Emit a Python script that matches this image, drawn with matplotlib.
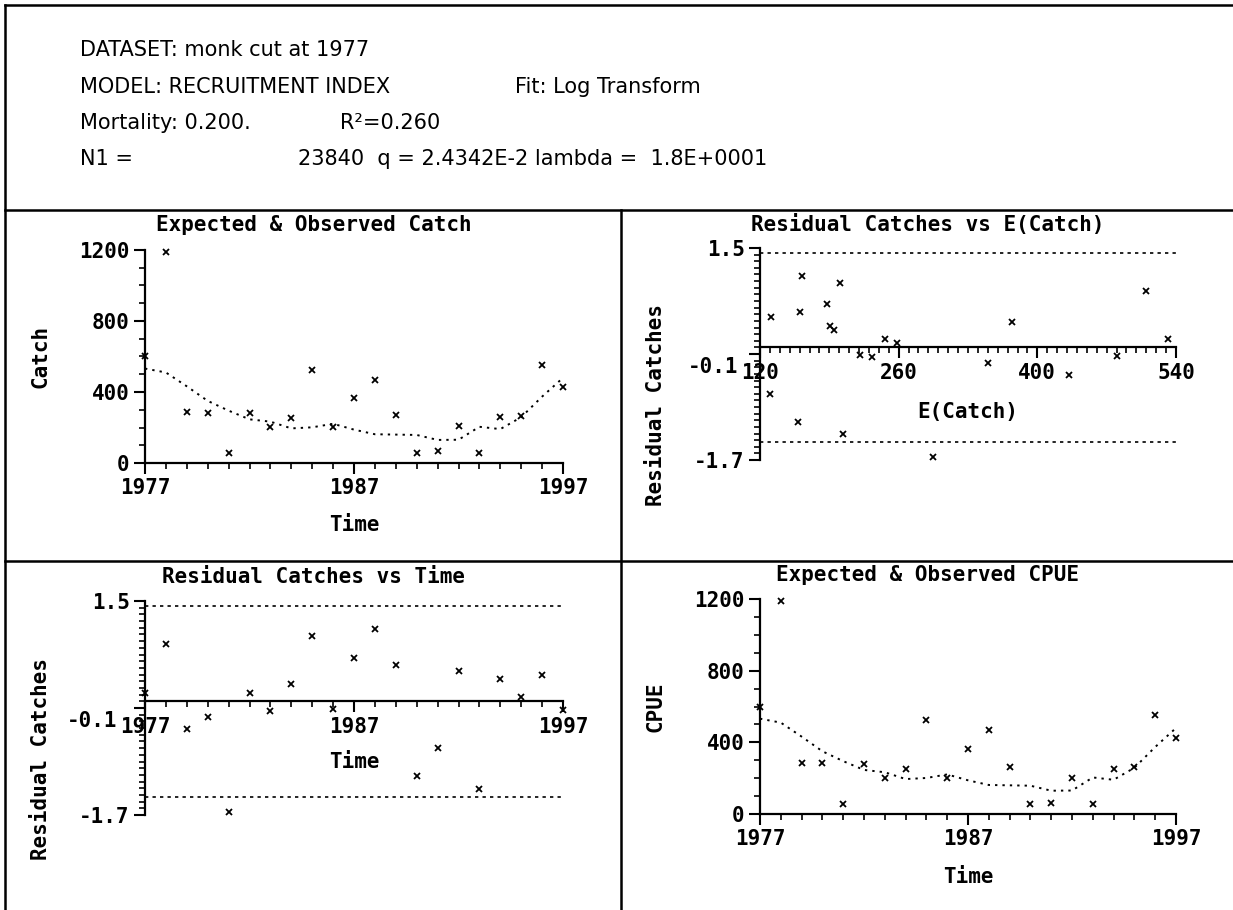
import matplotlib
matplotlib.use('Agg')
import matplotlib.pyplot as plt
import matplotlib.transforms as mtransforms
from matplotlib.lines import Line2D
from matplotlib.ticker import MultipleLocator

# Abmessungen des Bildes in Pixeln
W, H = 1233, 910

# Jahre der Zeitreihe
years = list(range(1977, 1998))

# Beobachteter und erwarteter Fang
observed_catch = [600, 1190, 285, 282, 55, 279, 204, 256, 524, 204, 364,
                  465, 268, 55, 67, 206, 55, 259, 265, 550, 430]
expected_catch = [532, 510, 432, 350, 295, 246, 233, 195, 201, 221, 188,
                  162, 160, 158, 130, 131, 204, 191, 258, 374, 480]

# Beobachteter und erwarteter CPUE
observed_cpue = [600, 1191, 283, 287, 54, 278, 203, 253, 525, 203, 361,
                 468, 265, 54, 63, 203, 54, 253, 265, 550, 425]
expected_cpue = [532, 510, 432, 350, 295, 246, 233, 195, 201, 221, 188,
                 162, 160, 158, 130, 131, 204, 191, 258, 374, 480]

# Residuen (log) pro Jahr
residuals = [0.13, 0.85, -0.42, -0.23, -1.66, 0.13, -0.14, 0.26, 0.97, -0.12, 0.65,
             1.08, 0.54, -1.12, -0.70, 0.46, -1.31, 0.33, 0.06, 0.39, -0.13]

# Grenzen fuer die Residuen
band = 1.43

plt.rcParams['font.family'] = ['DejaVu Sans Mono']
plt.rcParams['font.weight'] = 'bold'
plt.rcParams['axes.labelweight'] = 'bold'
plt.rcParams['font.size'] = 15

fig = plt.figure(figsize=(W / 100, H / 100), dpi=100)
fig.patch.set_facecolor('white')


def fx(x):
    return x / W


def fy(y):
    return 1 - y / H


def frame_line(x0, y0, x1, y1):
    fig.add_artist(Line2D([fx(x0), fx(x1)], [fy(y0), fy(y1)],
                          transform=fig.transFigure, color='black', lw=1.8))


# Rahmen und Trennlinien
frame_line(5, 5, W, 5)
frame_line(5, 5, 5, H)
frame_line(5, 210, W, 210)
frame_line(5, 561, W, 561)
frame_line(621, 210, 621, H)

# Kopfzeilen
head = dict(family='DejaVu Sans', weight='normal', fontsize=15, va='center')
fig.text(fx(80), fy(50), 'DATASET: monk cut at 1977', **head)
fig.text(fx(80), fy(87), 'MODEL: RECRUITMENT INDEX', **head)
fig.text(fx(515), fy(87), 'Fit: Log Transform', **head)
fig.text(fx(80), fy(123), 'Mortality: 0.200.', **head)
fig.text(fx(340), fy(123), 'R²=0.260', **head)
fig.text(fx(80), fy(159), 'N1 =', **head)
fig.text(fx(298), fy(159), '23840  q = 2.4342E-2 lambda =  1.8E+0001', **head)


def axes_px(x0, x1, y_top, y_bot):
    return fig.add_axes([fx(x0), fy(y_bot), (x1 - x0) / W, (y_bot - y_top) / H])


def style(ax):
    ax.set_facecolor('none')
    for side in ['top', 'right']:
        ax.spines[side].set_visible(False)
    for side in ['left', 'bottom']:
        ax.spines[side].set_linewidth(1.6)
    ax.tick_params(which='major', direction='out', length=8, width=1.5,
                   labelsize=15, pad=3)
    ax.tick_params(which='minor', direction='out', length=4, width=1.2)


def title(x, y, s):
    fig.text(fx(x), fy(y), s, ha='center', va='center', fontsize=15)


mk = dict(marker='x', color='black', ms=5, mew=1.3, ls='none', clip_on=False)
curve = dict(color='black', lw=1.4, ls=(0, (1.2, 2.6)), clip_on=False)
bandline = dict(color='black', lw=1.2, ls=(0, (2, 2.5)))


def series_panel(ax, obs, exp, ylabel):
    style(ax)
    ax.plot(years, exp, **curve)
    ax.plot(years, obs, **mk)
    ax.set_xlim(1977, 1997)
    ax.set_ylim(0, 1200)
    ax.set_xticks([1977, 1987, 1997])
    ax.xaxis.set_minor_locator(MultipleLocator(1))
    ax.set_yticks([0, 400, 800, 1200])
    ax.yaxis.set_minor_locator(MultipleLocator(100))
    ax.set_xlabel('Time')
    ax.xaxis.set_label_coords(0.5, -0.245)
    ax.set_ylabel(ylabel)
    ax.yaxis.set_label_coords(-0.226, 0.5)


def residual_panel(ax, x, x0, x1, xticks, minor, xlab, xlab_y, shift):
    style(ax)
    ax.spines['bottom'].set_position(('data', 0))
    ax.plot([x0, x1], [band, band], **bandline)
    ax.plot([x0, x1], [-band, -band], **bandline)
    ax.plot(x, residuals, **mk)
    ax.set_xlim(x0, x1)
    ax.set_ylim(-1.7, 1.5)
    ax.set_xticks(xticks)
    ax.xaxis.set_minor_locator(MultipleLocator(minor))
    ax.set_yticks([-1.7, -0.1, 1.5])
    ax.set_yticklabels(['-1.7', '', '1.5'])
    ax.yaxis.set_minor_locator(MultipleLocator(0.1))
    # Beschriftung fuer -0.1 sitzt in der Zeile der x-Beschriftung
    tr = mtransforms.offset_copy(ax.get_yaxis_transform(), fig=fig,
                                 x=shift, y=-20, units='dots')
    ax.text(0, 0, '-0.1', transform=tr, ha='right', va='center', fontsize=15)
    ax.set_xlabel(xlab)
    ax.xaxis.set_label_coords(0.5, xlab_y)
    ax.set_ylabel('Residual Catches')
    ax.yaxis.set_label_coords(-0.226, 0.26)


# Oben links: erwarteter und beobachteter Fang
ax1 = axes_px(145, 563, 250, 463)
series_panel(ax1, observed_catch, expected_catch, 'Catch')
title(314, 225, 'Expected & Observed Catch')

# Oben rechts: Residuen gegen E(Catch)
ax2 = axes_px(760, 1176, 248, 460)
residual_panel(ax2, expected_catch, 120, 540, [120, 260, 400, 540], 10,
               'E(Catch)', 0.274, -22)
title(928, 225, 'Residual Catches vs E(Catch)')

# Unten links: Residuen gegen Zeit
ax3 = axes_px(145, 563, 601, 815)
residual_panel(ax3, years, 1977, 1997, [1977, 1987, 1997], 1, 'Time', 0.294, -28)
title(314, 577, 'Residual Catches vs Time')

# Unten rechts: erwarteter und beobachteter CPUE
ax4 = axes_px(760, 1176, 599, 814)
series_panel(ax4, observed_cpue, expected_cpue, 'CPUE')
title(928, 575, 'Expected & Observed CPUE')

fig.savefig('out.png', dpi=100, facecolor='white')
